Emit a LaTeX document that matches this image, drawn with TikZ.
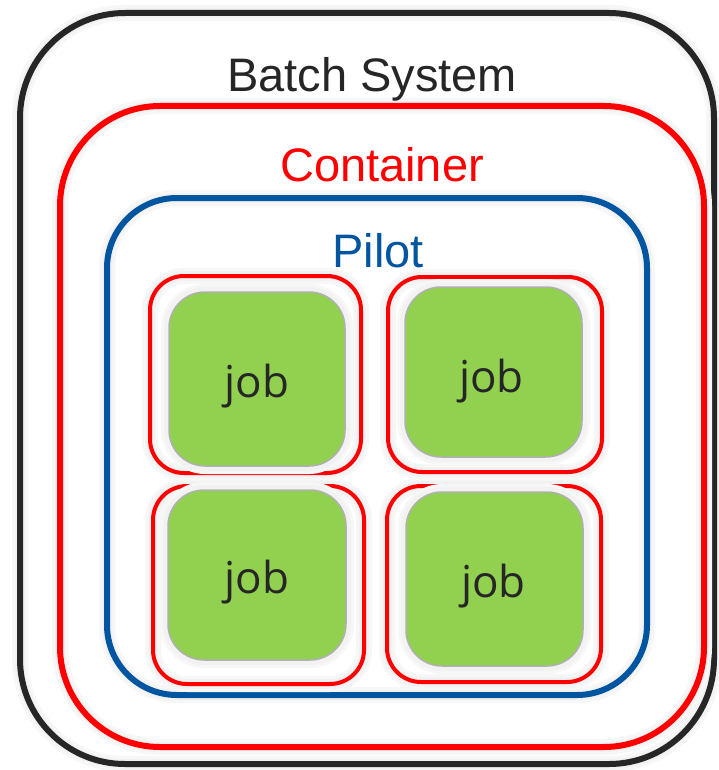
\documentclass[tikz,border=0pt]{standalone}
\usepackage{fontspec}
\setmainfont{Liberation Sans}
\newfontfamily\jobfont{Open Sans}
\definecolor{frameblack}{RGB}{38,38,38}
\definecolor{contred}{RGB}{255,0,0}
\definecolor{pilotblue}{RGB}{0,85,160}
\definecolor{jobgreen}{RGB}{146,208,80}
\definecolor{jobedge}{RGB}{176,176,176}
\definecolor{inktext}{RGB}{38,38,38}
\tikzset{
  halo/.style={preaction={draw=black!3,line width=16pt},
               preaction={draw=black!5,line width=10pt}},
  layer/.style={rectangle,rounded corners=#1,inner sep=0pt,outer sep=0pt,halo},
  batchbox/.style={layer=105pt,draw=frameblack,line width=6pt},
  contbox/.style={layer=100pt,draw=contred,line width=6pt},
  pilotbox/.style={layer=70pt,draw=pilotblue,line width=6pt},
  cellbox/.style={layer=34pt,draw=contred,line width=4pt},
  jobbox/.style={layer=36pt,draw=jobedge,line width=1.5pt,fill=jobgreen},
  joblabel/.style={anchor=base,inner sep=0pt,text=inktext,
                   font=\jobfont\fontsize{44}{50}\selectfont},
  title/.style={anchor=base,font=\fontsize{47}{56}\selectfont}
}
\begin{document}
\begin{tikzpicture}[x=1pt,y=-1pt]
  \fill[white] (0,0) rectangle (718,770);
  \useasboundingbox (0,0) rectangle (718,770);

  % nested frames
  \node[batchbox,minimum width=694pt,minimum height=751pt] (batch) at (367,388.5) {};
  \node[contbox,minimum width=644pt,minimum height=641pt] (cont) at (382,426.5) {};
  \node[pilotbox,minimum width=540pt,minimum height=497pt] (pilot) at (377,446.5) {};

  % per-job containers
  \node[cellbox,minimum width=211pt,minimum height=197pt] (c1) at (255.5,374.5) {};
  \node[cellbox,minimum width=214pt,minimum height=195pt] (c2) at (495,374.5) {};
  \node[cellbox,minimum width=211pt,minimum height=198pt] (c3) at (258.5,585) {};
  \node[cellbox,minimum width=214pt,minimum height=196pt] (c4) at (494,584) {};

  % jobs
  \node[jobbox,minimum width=176pt,minimum height=174pt] (j1) at (257,379) {};
  \node[jobbox,minimum width=177pt,minimum height=170pt] (j2) at (493.5,372) {};
  \node[jobbox,minimum width=178pt,minimum height=170pt] (j3) at (257,575) {};
  \node[jobbox,minimum width=177pt,minimum height=174pt] (j4) at (494.5,579) {};

  \node[joblabel] (l1) at ([yshift=-18pt]j1.center) {job};
  \node[joblabel] (l2) at ([xshift=-2pt,yshift=-20pt]j2.center) {job};
  \node[joblabel] (l3) at ([yshift=-18pt]j3.center) {job};
  \node[joblabel] (l4) at ([xshift=-1pt,yshift=-18pt]j4.center) {job};

  % titles
  \node[title,text=inktext] (tbatch) at (372,92) {Batch System};
  \node[title,text=contred] (tcont) at (382,182) {Container};
  \node[title,text=pilotblue] (tpilot) at (378,267) {Pilot};
\end{tikzpicture}
\end{document}
